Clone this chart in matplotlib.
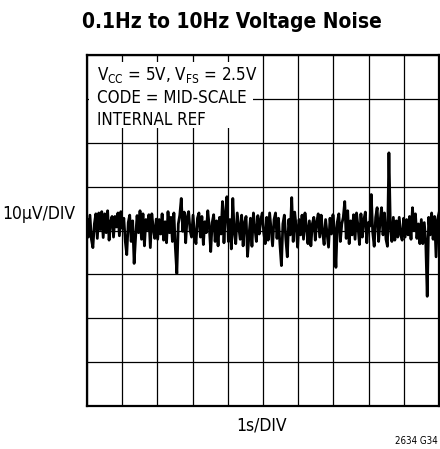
import matplotlib
matplotlib.use("Agg")
import matplotlib.pyplot as plt
from matplotlib.patches import Rectangle
import numpy as np

# output noise, uV, ten 1-second divisions of 24 samples each
noise_uv = [
    2.5, -1.5, 3.5, -2.0, -3.9, 1.5, 3.8, -1.8, 4.0, 0.2, 4.3, -1.6,
    3.8, -0.5, 4.5, -2.2, 2.0, 3.2, -1.5, 3.2, 0.8, 4.0, -1.2, 4.3,
    0.5, 2.8, -2.5, -5.5, 1.8, 3.5, -2.5, 2.2, -7.5, -1.5, 3.4, -0.5,
    4.5, -2.0, 3.8, -3.5, 2.5, 0.2, 3.6, -3.9, 3.8, 0.5, -1.8, 2.6,
    -2.0, 2.5, -0.8, 3.8, -2.2, 2.0, -2.8, 4.3, -0.5, 3.0, -2.5, 4.0,
    -4.0, -9.8, 1.5, 3.5, 7.3, -0.2, 4.2, -2.8, 3.0, 4.3, 0.0, -1.5,
    3.5, -1.0, -3.0, 2.8, 4.0, -1.5, 3.2, -3.2, 2.0, -0.5, 4.5, 1.0,
    -4.8, 1.8, 3.6, -2.5, 2.2, -3.5, 3.0, -0.8, 6.6, -2.8, 4.0, 7.7,
    -2.5, 2.5, -4.2, 7.3, -0.5, -3.0, 4.0, 1.0, -2.0, 3.5, -3.5, 1.8,
    3.2, -5.9, -1.0, 2.8, -3.6, 4.0, 0.5, -2.5, 3.4, -0.8, 2.5, 4.0,
    -0.5, -3.0, 3.0, -2.2, 4.0, 0.2, -3.5, 2.5, 4.0, -1.8, 2.8, -3.2,
    -8.0, 1.5, 3.5, -2.0, -6.0, 2.5, -1.0, 7.5, -2.5, 4.2, 1.0, -3.8,
    2.5, -1.0, 3.5, -2.0, 4.0, 0.8, -3.0, 2.2, -3.5, 1.5, 3.0, -2.2,
    2.0, 3.8, -1.5, 3.5, -0.5, -3.2, 2.5, -0.6, -3.8, 2.8, -0.8, 3.6,
    0.5, -8.4, 2.0, 3.8, -2.5, 1.5, 3.0, 6.6, -1.8, 4.5, -3.0, 2.2,
    -1.0, 3.6, -2.0, 4.0, 1.0, -3.2, 3.8, -1.5, 2.5, 4.2, -2.8, 1.8,
    1.0, 8.2, -0.5, -3.6, 3.0, 5.2, -2.5, 2.2, 5.2, -1.0, 4.0, -2.0,
    -3.6, 17.7, 0.5, -2.5, 3.0, -2.2, 2.2, -1.5, 3.0, -1.0, -2.2, 2.8,
    -1.5, 2.5, -1.0, 3.2, -2.0, 5.2, 0.0, 3.8, -1.8, 1.5, -3.0, 2.5,
    -3.0, 1.8, -2.5, -15.0, 3.0, -1.0, 4.0, -2.0, 3.2, -6.0, 2.5, 4.0,
]
t_sec = np.linspace(0, 10, len(noise_uv))

x_divs = np.arange(0, 11, 1)
y_divs = np.arange(-40, 41, 10)

title = "0.1Hz to 10Hz Voltage Noise"
cond_lines = [r"V$_{\mathregular{CC}}$ = 5V, V$_{\mathregular{FS}}$ = 2.5V",
              "CODE = MID-SCALE",
              "INTERNAL REF"]

plt.rcParams['font.family'] = ['DejaVu Sans']
plt.rcParams['font.stretch'] = 'condensed'

fig = plt.figure(figsize=(4.40, 4.49), dpi=100)
ax = fig.add_axes([87 / 440, 43 / 449, 352 / 440, 351 / 449])

ax.plot(t_sec, noise_uv, color='black', lw=2.0, zorder=3)

ax.set_xlim(x_divs[0], x_divs[-1])
ax.set_ylim(y_divs[0], y_divs[-1])
ax.set_xticks(x_divs)
ax.set_yticks(y_divs)
ax.set_axisbelow(True)
ax.grid(True, color='black', lw=0.9)
ax.tick_params(length=0, labelbottom=False, labelleft=False)
for s in ax.spines.values():
    s.set_linewidth(1.6)
    s.set_zorder(4)

# blank out the grid behind the conditions text
ax.add_patch(Rectangle((0.005, 0.792), 0.467, 0.188, transform=ax.transAxes,
                       facecolor='white', edgecolor='none', zorder=1))
ax.text(0.028, 0.972, "\n".join(cond_lines), transform=ax.transAxes,
        ha='left', va='top', fontsize=12.2, linespacing=1.3, zorder=2)

fig.text(232 / 440, 1 - 22 / 449, title, ha='center', va='center',
         fontsize=15, fontweight='bold')
fig.text(2 / 440, 1 - 214 / 449, "10µV/DIV", ha='left', va='center',
         fontsize=12.5)
fig.text(262 / 440, 1 - 425 / 449, "1s/DIV", ha='center', va='center',
         fontsize=12.5)
fig.text(438 / 440, 1 - 441 / 449, "2634 G34", ha='right', va='center',
         fontsize=7)

fig.savefig("out.png", dpi=100)
